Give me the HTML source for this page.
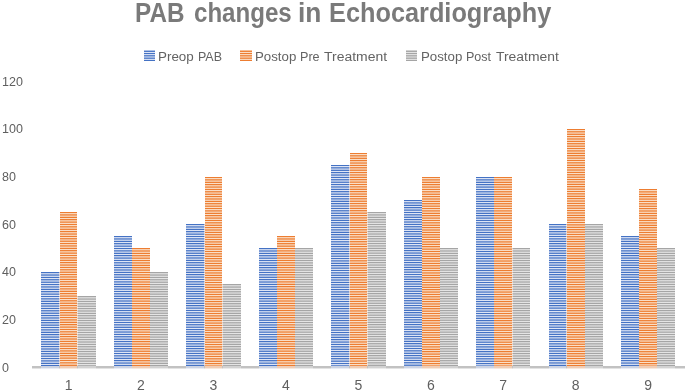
<!DOCTYPE html>
<html><head><meta charset="utf-8">
<style>
html,body{margin:0;padding:0;background:#fff;}
body{width:685px;height:392px;overflow:hidden;position:relative;font-family:"Liberation Sans",sans-serif;}
.t,.l,.yl,.xl{filter:blur(0.3px);}
.t{position:absolute;font-weight:bold;font-size:27.0px;color:#7a7a7a;line-height:40px;white-space:nowrap;transform-origin:0 0;}
.l{position:absolute;font-size:12.5px;color:#636363;line-height:40px;white-space:nowrap;transform-origin:0 0;}
.ico{position:absolute;width:11.7px;}
.bar{position:absolute;}
.b{background-image:repeating-linear-gradient(to bottom,#dee5f5 1.802px,#dee5f5 1.995px,#4472c4 2.795px,#4472c4 3.195px,#dee5f5 3.995px,#dee5f5 4.188px);background-attachment:fixed;}
.o{background-image:repeating-linear-gradient(to bottom,#fadec6 1.802px,#fadec6 1.995px,#ed7d31 2.795px,#ed7d31 3.195px,#fadec6 3.995px,#fadec6 4.188px);background-attachment:fixed;}
.g{background-image:repeating-linear-gradient(to bottom,#e4e4e4 1.802px,#e4e4e4 1.995px,#a5a5a5 2.795px,#a5a5a5 3.195px,#e4e4e4 3.995px,#e4e4e4 4.188px);background-attachment:fixed;}
.q0{background-image:repeating-linear-gradient(to bottom,#f6f0ee 1.802px,#f6f0ee 1.995px,#ccbbbd 2.795px,#ccbbbd 3.195px,#f6f0ee 3.995px,#f6f0ee 4.188px);background-attachment:fixed;}
.q1{background-image:repeating-linear-gradient(to bottom,#f7f0ea 1.802px,#f7f0ea 1.995px,#e4c8b5 2.795px,#e4c8b5 3.195px,#f7f0ea 3.995px,#f7f0ea 4.188px);background-attachment:fixed;}
.ib{background-image:repeating-linear-gradient(to bottom,#dee5f5 1.800px,#dee5f5 1.950px,#4472c4 2.750px,#4472c4 3.150px,#dee5f5 3.950px,#dee5f5 4.100px);background-attachment:fixed;}
.io{background-image:repeating-linear-gradient(to bottom,#fadec6 1.800px,#fadec6 1.950px,#ed7d31 2.750px,#ed7d31 3.150px,#fadec6 3.950px,#fadec6 4.100px);background-attachment:fixed;}
.ig{background-image:repeating-linear-gradient(to bottom,#e4e4e4 1.800px,#e4e4e4 1.950px,#a5a5a5 2.750px,#a5a5a5 3.150px,#e4e4e4 3.950px,#e4e4e4 4.100px);background-attachment:fixed;}

.axis{position:absolute;left:32.4px;width:652.6px;top:366px;height:3px;background:linear-gradient(to bottom,#c2c2c2 0,#c2c2c2 2px,#e2e2e2 2px);}
.ax{position:absolute;top:366px;height:3px;}
.yl{position:absolute;left:2px;height:16px;line-height:16px;font-size:12.5px;color:#5f5f5f;}
.xl{position:absolute;top:377.0px;width:40px;text-align:center;height:16px;line-height:16px;font-size:14px;color:#5f5f5f;}
</style></head><body>
<div class="t m" style="left:134.92px;top:-6.80px;transform:scaleX(0.8995)">PAB</div>
<div class="t m" style="left:193.55px;top:-6.80px;transform:scaleX(0.8923)">changes</div>
<div class="t m" style="left:298.41px;top:-6.80px;transform:scaleX(0.9750)">in</div>
<div class="t m" style="left:328.95px;top:-6.80px;transform:scaleX(0.9375)">Echocardiography</div>
<div class="l m" style="left:157.99px;top:36.90px;transform:scaleX(1.0721)">Preop</div>
<div class="l m" style="left:197.67px;top:36.90px;transform:scaleX(0.9951)">PAB</div>
<div class="l m" style="left:254.50px;top:36.90px;transform:scaleX(1.0615)">Postop</div>
<div class="l m" style="left:299.75px;top:36.90px;transform:scaleX(1.0089)">Pre</div>
<div class="l m" style="left:324.12px;top:36.90px;transform:scaleX(1.1151)">Treatment</div>
<div class="l m" style="left:420.50px;top:36.90px;transform:scaleX(1.0615)">Postop</div>
<div class="l m" style="left:465.76px;top:36.90px;transform:scaleX(1.0017)">Post</div>
<div class="l m" style="left:496.42px;top:36.90px;transform:scaleX(1.1115)">Treatment</div>

<div class="ico ib" style="left:143.5px;top:50px;height:11px"></div>
<div class="ico io" style="left:240.0px;top:50px;height:11px"></div>
<div class="ico ig" style="left:405.7px;top:50px;height:11px"></div>

<div class="yl m" style="top:359.70px">0</div><div class="yl m" style="top:312.04px">20</div><div class="yl m" style="top:264.38px">40</div><div class="yl m" style="top:216.72px">60</div><div class="yl m" style="top:169.06px">80</div><div class="yl m" style="top:121.40px">100</div><div class="yl m" style="top:73.74px">120</div>
<div class="bar b" style="left:41.41px;top:271.98px;width:17.86px;height:94.42px"></div><div class="bar q0" style="left:59.27px;top:271.98px;width:0.50px;height:94.42px"></div><div class="bar o" style="left:59.77px;top:212.41px;width:17.61px;height:153.99px"></div><div class="bar q1" style="left:77.38px;top:295.81px;width:0.50px;height:70.59px"></div><div class="bar g" style="left:77.88px;top:295.81px;width:17.86px;height:70.59px"></div><div class="bar b" style="left:113.86px;top:236.24px;width:17.86px;height:130.16px"></div><div class="bar q0" style="left:131.72px;top:248.15px;width:0.50px;height:118.25px"></div><div class="bar o" style="left:132.22px;top:248.15px;width:17.61px;height:118.25px"></div><div class="bar q1" style="left:149.83px;top:271.98px;width:0.50px;height:94.42px"></div><div class="bar g" style="left:150.33px;top:271.98px;width:17.86px;height:94.42px"></div><div class="bar b" style="left:186.31px;top:224.32px;width:17.86px;height:142.08px"></div><div class="bar q0" style="left:204.17px;top:224.32px;width:0.50px;height:142.08px"></div><div class="bar o" style="left:204.67px;top:176.66px;width:17.61px;height:189.74px"></div><div class="bar q1" style="left:222.28px;top:283.89px;width:0.50px;height:82.50px"></div><div class="bar g" style="left:222.78px;top:283.89px;width:17.86px;height:82.50px"></div><div class="bar b" style="left:258.76px;top:248.15px;width:17.86px;height:118.25px"></div><div class="bar q0" style="left:276.62px;top:248.15px;width:0.50px;height:118.25px"></div><div class="bar o" style="left:277.12px;top:236.24px;width:17.61px;height:130.16px"></div><div class="bar q1" style="left:294.73px;top:248.15px;width:0.50px;height:118.25px"></div><div class="bar g" style="left:295.23px;top:248.15px;width:17.86px;height:118.25px"></div><div class="bar b" style="left:331.21px;top:164.75px;width:17.86px;height:201.65px"></div><div class="bar q0" style="left:349.07px;top:164.75px;width:0.50px;height:201.65px"></div><div class="bar o" style="left:349.57px;top:152.83px;width:17.61px;height:213.57px"></div><div class="bar q1" style="left:367.18px;top:212.41px;width:0.50px;height:153.99px"></div><div class="bar g" style="left:367.68px;top:212.41px;width:17.86px;height:153.99px"></div><div class="bar b" style="left:403.66px;top:200.49px;width:17.86px;height:165.91px"></div><div class="bar q0" style="left:421.52px;top:200.49px;width:0.50px;height:165.91px"></div><div class="bar o" style="left:422.02px;top:176.66px;width:17.61px;height:189.74px"></div><div class="bar q1" style="left:439.63px;top:248.15px;width:0.50px;height:118.25px"></div><div class="bar g" style="left:440.13px;top:248.15px;width:17.86px;height:118.25px"></div><div class="bar b" style="left:476.11px;top:176.66px;width:17.86px;height:189.74px"></div><div class="bar q0" style="left:493.97px;top:176.66px;width:0.50px;height:189.74px"></div><div class="bar o" style="left:494.47px;top:176.66px;width:17.61px;height:189.74px"></div><div class="bar q1" style="left:512.08px;top:248.15px;width:0.50px;height:118.25px"></div><div class="bar g" style="left:512.58px;top:248.15px;width:17.86px;height:118.25px"></div><div class="bar b" style="left:548.56px;top:224.32px;width:17.86px;height:142.08px"></div><div class="bar q0" style="left:566.42px;top:224.32px;width:0.50px;height:142.08px"></div><div class="bar o" style="left:566.92px;top:129.00px;width:17.61px;height:237.40px"></div><div class="bar q1" style="left:584.53px;top:224.32px;width:0.50px;height:142.08px"></div><div class="bar g" style="left:585.03px;top:224.32px;width:17.86px;height:142.08px"></div><div class="bar b" style="left:621.01px;top:236.24px;width:17.86px;height:130.16px"></div><div class="bar q0" style="left:638.87px;top:236.24px;width:0.50px;height:130.16px"></div><div class="bar o" style="left:639.37px;top:188.58px;width:17.61px;height:177.82px"></div><div class="bar q1" style="left:656.98px;top:248.15px;width:0.50px;height:118.25px"></div><div class="bar g" style="left:657.48px;top:248.15px;width:17.86px;height:118.25px"></div>
<div class="axis"></div>
<div class="ax" style="left:41.41px;width:17.86px;background:linear-gradient(to bottom,#ccd3e3 0,#ccd3e3 2px,#e8ecf4 2px)"></div><div class="ax" style="left:59.77px;width:17.61px;background:linear-gradient(to bottom,#efcdb6 0,#efcdb6 2px,#f8e8dc 2px)"></div><div class="ax" style="left:77.88px;width:17.86px;background:linear-gradient(to bottom,#d2d2d2 0,#d2d2d2 2px,#ebebeb 2px)"></div><div class="ax" style="left:113.86px;width:17.86px;background:linear-gradient(to bottom,#ccd3e3 0,#ccd3e3 2px,#e8ecf4 2px)"></div><div class="ax" style="left:132.22px;width:17.61px;background:linear-gradient(to bottom,#efcdb6 0,#efcdb6 2px,#f8e8dc 2px)"></div><div class="ax" style="left:150.33px;width:17.86px;background:linear-gradient(to bottom,#d2d2d2 0,#d2d2d2 2px,#ebebeb 2px)"></div><div class="ax" style="left:186.31px;width:17.86px;background:linear-gradient(to bottom,#ccd3e3 0,#ccd3e3 2px,#e8ecf4 2px)"></div><div class="ax" style="left:204.67px;width:17.61px;background:linear-gradient(to bottom,#efcdb6 0,#efcdb6 2px,#f8e8dc 2px)"></div><div class="ax" style="left:222.78px;width:17.86px;background:linear-gradient(to bottom,#d2d2d2 0,#d2d2d2 2px,#ebebeb 2px)"></div><div class="ax" style="left:258.76px;width:17.86px;background:linear-gradient(to bottom,#ccd3e3 0,#ccd3e3 2px,#e8ecf4 2px)"></div><div class="ax" style="left:277.12px;width:17.61px;background:linear-gradient(to bottom,#efcdb6 0,#efcdb6 2px,#f8e8dc 2px)"></div><div class="ax" style="left:295.23px;width:17.86px;background:linear-gradient(to bottom,#d2d2d2 0,#d2d2d2 2px,#ebebeb 2px)"></div><div class="ax" style="left:331.21px;width:17.86px;background:linear-gradient(to bottom,#ccd3e3 0,#ccd3e3 2px,#e8ecf4 2px)"></div><div class="ax" style="left:349.57px;width:17.61px;background:linear-gradient(to bottom,#efcdb6 0,#efcdb6 2px,#f8e8dc 2px)"></div><div class="ax" style="left:367.68px;width:17.86px;background:linear-gradient(to bottom,#d2d2d2 0,#d2d2d2 2px,#ebebeb 2px)"></div><div class="ax" style="left:403.66px;width:17.86px;background:linear-gradient(to bottom,#ccd3e3 0,#ccd3e3 2px,#e8ecf4 2px)"></div><div class="ax" style="left:422.02px;width:17.61px;background:linear-gradient(to bottom,#efcdb6 0,#efcdb6 2px,#f8e8dc 2px)"></div><div class="ax" style="left:440.13px;width:17.86px;background:linear-gradient(to bottom,#d2d2d2 0,#d2d2d2 2px,#ebebeb 2px)"></div><div class="ax" style="left:476.11px;width:17.86px;background:linear-gradient(to bottom,#ccd3e3 0,#ccd3e3 2px,#e8ecf4 2px)"></div><div class="ax" style="left:494.47px;width:17.61px;background:linear-gradient(to bottom,#efcdb6 0,#efcdb6 2px,#f8e8dc 2px)"></div><div class="ax" style="left:512.58px;width:17.86px;background:linear-gradient(to bottom,#d2d2d2 0,#d2d2d2 2px,#ebebeb 2px)"></div><div class="ax" style="left:548.56px;width:17.86px;background:linear-gradient(to bottom,#ccd3e3 0,#ccd3e3 2px,#e8ecf4 2px)"></div><div class="ax" style="left:566.92px;width:17.61px;background:linear-gradient(to bottom,#efcdb6 0,#efcdb6 2px,#f8e8dc 2px)"></div><div class="ax" style="left:585.03px;width:17.86px;background:linear-gradient(to bottom,#d2d2d2 0,#d2d2d2 2px,#ebebeb 2px)"></div><div class="ax" style="left:621.01px;width:17.86px;background:linear-gradient(to bottom,#ccd3e3 0,#ccd3e3 2px,#e8ecf4 2px)"></div><div class="ax" style="left:639.37px;width:17.61px;background:linear-gradient(to bottom,#efcdb6 0,#efcdb6 2px,#f8e8dc 2px)"></div><div class="ax" style="left:657.48px;width:17.86px;background:linear-gradient(to bottom,#d2d2d2 0,#d2d2d2 2px,#ebebeb 2px)"></div>
<div class="xl m" style="left:48.58px">1</div><div class="xl m" style="left:121.03px">2</div><div class="xl m" style="left:193.47px">3</div><div class="xl m" style="left:265.93px">4</div><div class="xl m" style="left:338.38px">5</div><div class="xl m" style="left:410.83px">6</div><div class="xl m" style="left:483.28px">7</div><div class="xl m" style="left:555.73px">8</div><div class="xl m" style="left:628.18px">9</div>
</body></html>
